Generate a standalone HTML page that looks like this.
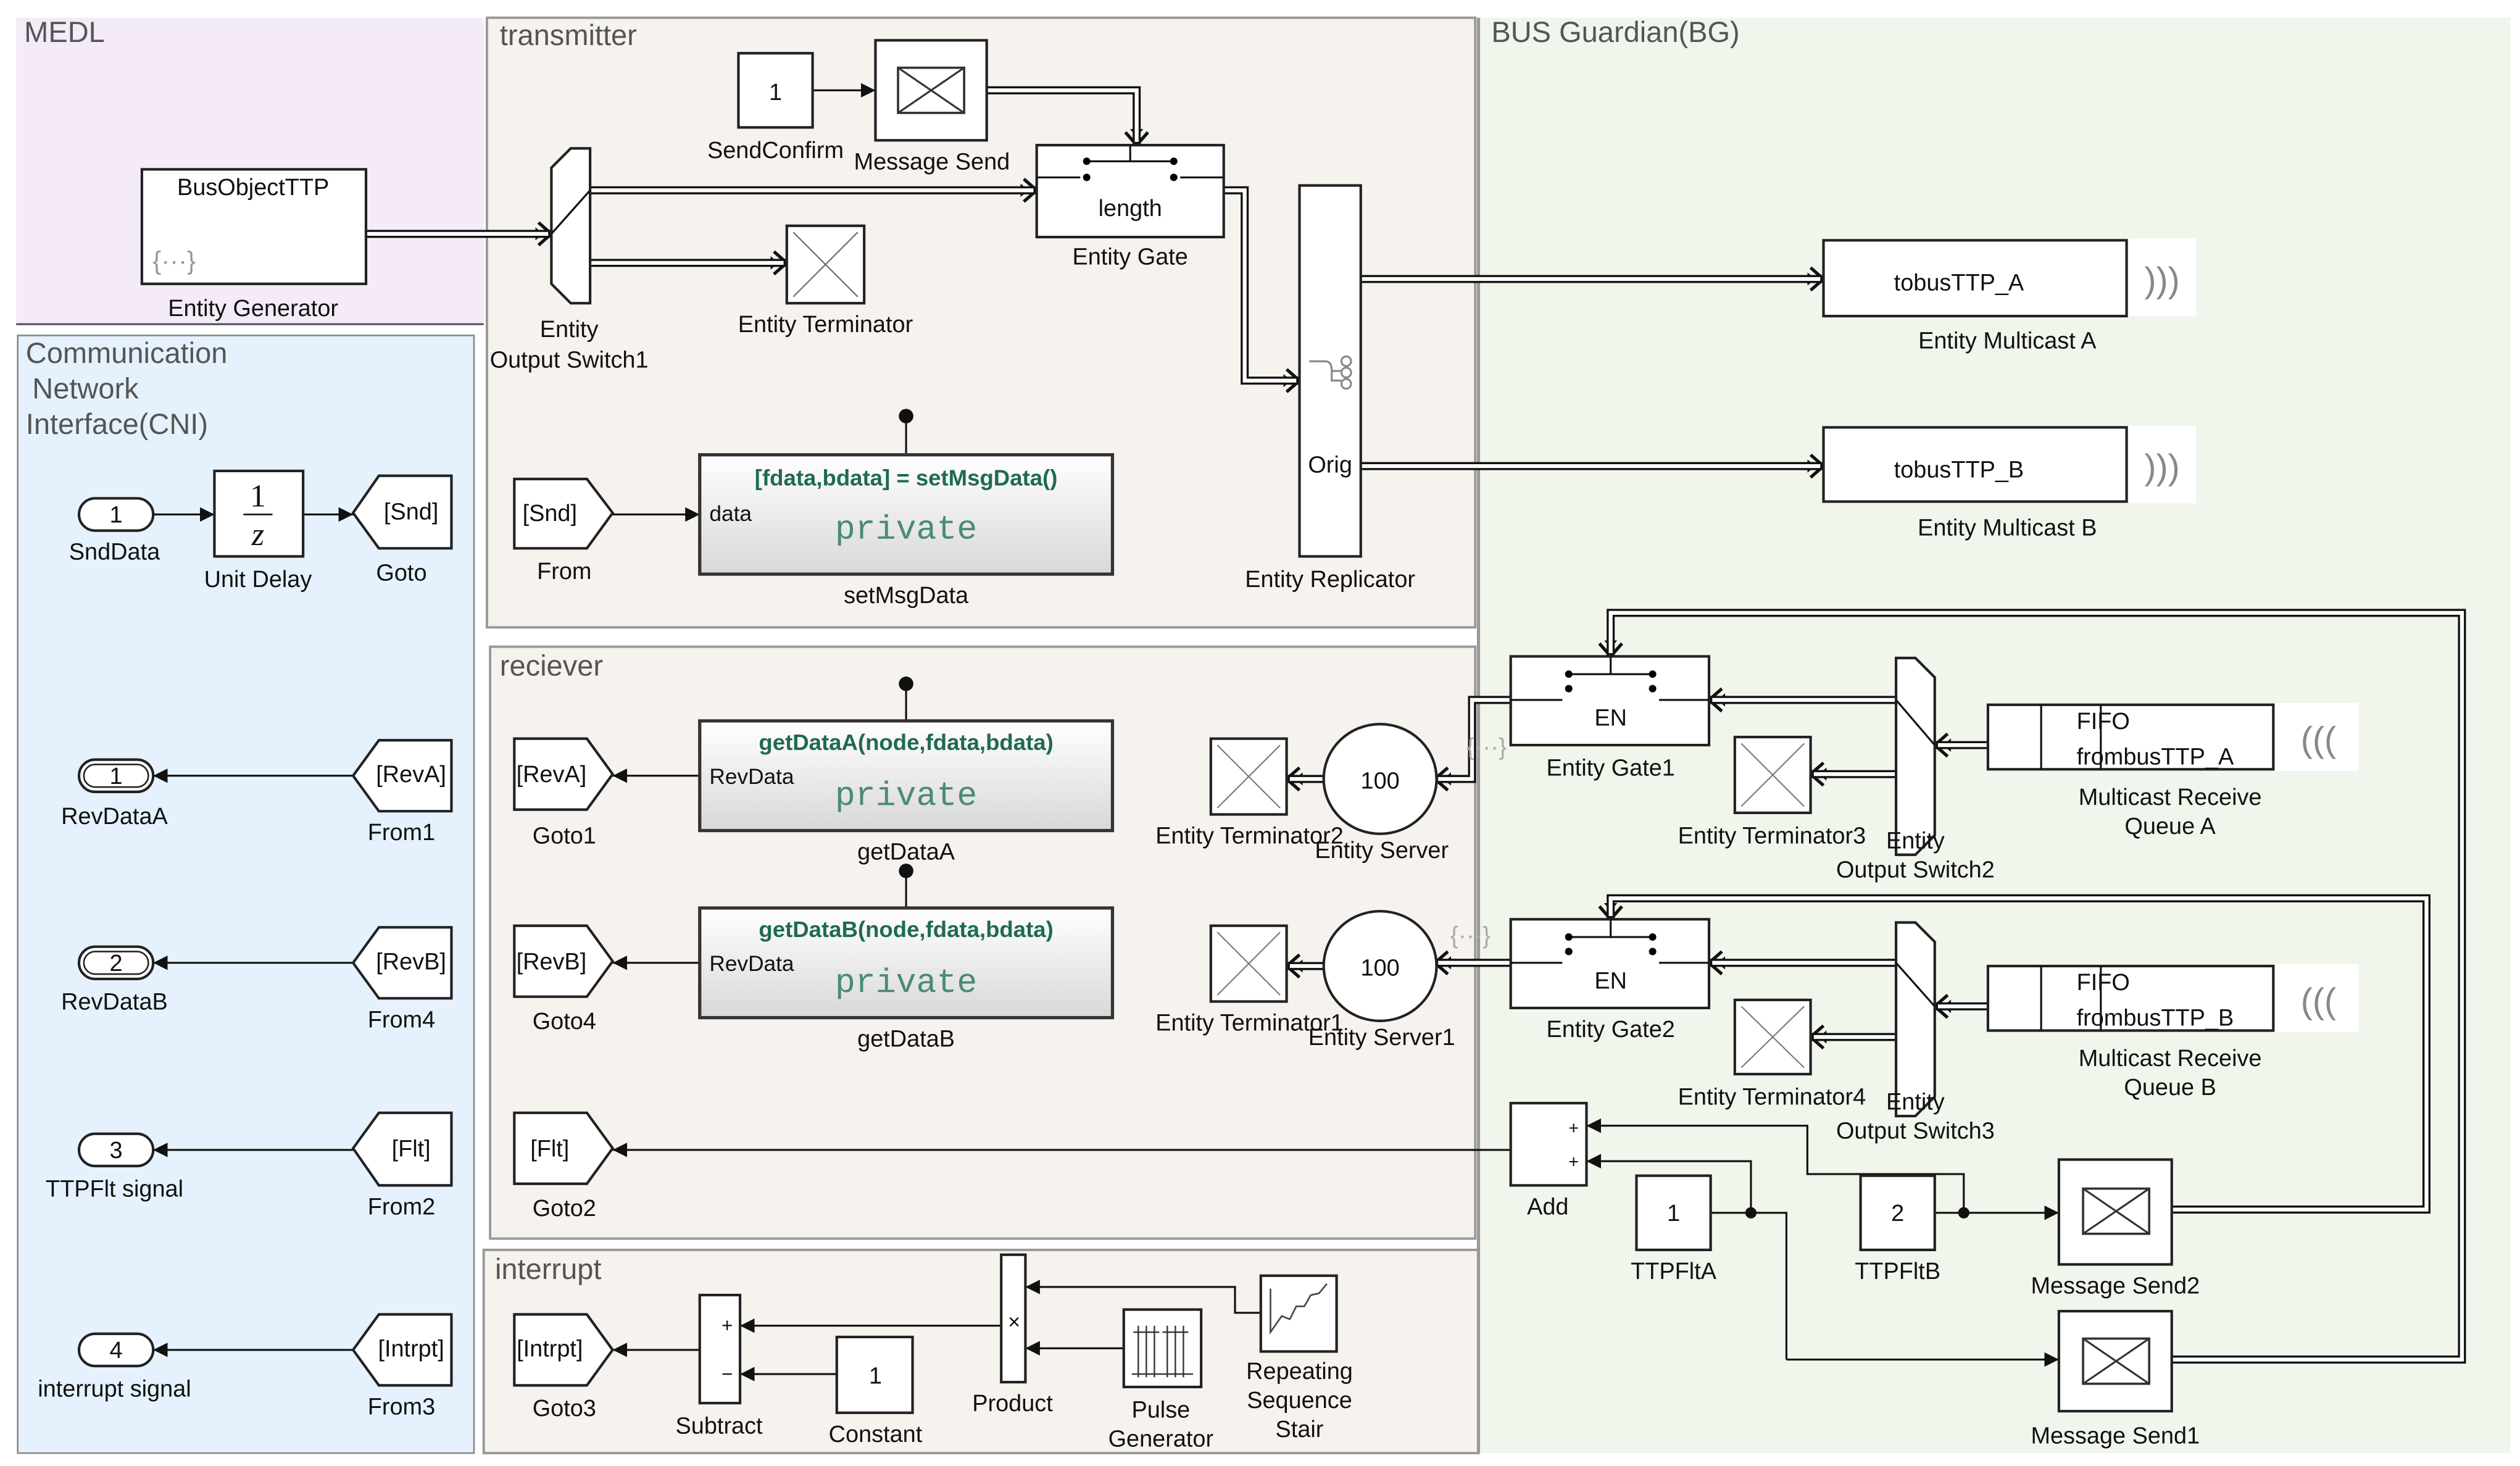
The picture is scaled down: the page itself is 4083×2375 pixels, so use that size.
<!DOCTYPE html>
<html><head><meta charset="utf-8"><style>
html,body{margin:0;padding:0;background:#fff;width:4083px;height:2375px;overflow:hidden}
svg{display:block}
text{font-family:"Liberation Sans",sans-serif;font-size:14.5px;fill:#111;text-anchor:middle}
.t{font-size:18px;fill:#555;text-anchor:start}
.b{fill:#fff;stroke:#222;stroke-width:1.6}
.s{fill:none;stroke:#111;stroke-width:1.2}
.e{fill:none;stroke:#111;stroke-width:5}
.ew{fill:none;stroke:#fff;stroke-width:2.4}
.g{fill:#1f6b4f;font-weight:bold;font-size:14px}
.p{font-family:"Liberation Mono",monospace;fill:#4a8a76;font-size:21px}
.l{text-anchor:start;font-size:13.5px}
</style></head><body>
<svg width="4083" height="2375" viewBox="0 0 1563 909" preserveAspectRatio="none" xmlns="http://www.w3.org/2000/svg">
<defs>
<marker id="a" markerUnits="userSpaceOnUse" markerWidth="10" markerHeight="10" refX="9" refY="5" orient="auto"><path d="M0,0.5 L9,5 L0,9.5z" fill="#111"/></marker>
<marker id="c" markerUnits="userSpaceOnUse" markerWidth="14" markerHeight="16" refX="10" refY="8" orient="auto"><path d="M2,1 L10,8 L2,15" fill="none" stroke="#111" stroke-width="2"/><path d="M-2,3 L4,8 L-2,13" fill="none" stroke="#111" stroke-width="1.2"/></marker>
<linearGradient id="gr" x1="0" y1="0" x2="0" y2="1"><stop offset="0" stop-color="#fff"/><stop offset="1" stop-color="#d8d8d8"/></linearGradient>
</defs>
<rect width="1563" height="909" fill="#fff"/>
<!-- regions -->
<rect x="10" y="11" width="290" height="190" fill="#f5eaf7"/>
<line x1="10" y1="201" x2="300" y2="201" stroke="#555" stroke-width="1.2"/>
<rect x="11" y="208" width="283" height="693" fill="#e5f2fd" stroke="#888" stroke-width="1"/>
<rect x="302" y="11" width="613" height="378" fill="#f6f2ee" stroke="#999" stroke-width="1.5"/>
<rect x="304" y="401" width="611" height="367" fill="#f6f2ee" stroke="#999" stroke-width="1.5"/>
<rect x="300" y="775" width="617" height="126" fill="#f6f2ee" stroke="#999" stroke-width="1.5"/>
<rect x="918" y="11" width="639" height="890" fill="#f1f6ec"/>
<line x1="917" y1="11" x2="917" y2="901" stroke="#999" stroke-width="2"/>
<text class="t" x="15" y="26">MEDL</text>
<text class="t" x="310" y="28">transmitter</text>
<text class="t" x="310" y="419">reciever</text>
<text class="t" x="307" y="793">interrupt</text>
<text class="t" x="925" y="26">BUS Guardian(BG)</text>
<text class="t" x="16" y="225">Communication</text>
<text class="t" x="20" y="247">Network</text>
<text class="t" x="16" y="269">Interface(CNI)</text>

<!-- entity double connections -->
<g>
<path class="e" marker-end="url(#c)" d="M227,145 H342"/>
<path class="e" marker-end="url(#c)" d="M366,118 H643"/>
<path class="e" marker-end="url(#c)" d="M366,163 H488"/>
<path class="e" marker-end="url(#c)" d="M612,56 H705 V90"/>
<path class="e" marker-end="url(#c)" d="M759,118 H772 V236 H806"/>
<path class="e" marker-end="url(#c)" d="M844,173 H1131"/>
<path class="e" marker-end="url(#c)" d="M844,289 H1131"/>
<path class="e" marker-end="url(#c)" d="M822,483 H798"/>
<path class="e" marker-end="url(#c)" d="M822,599 H798"/>
<path class="e" marker-end="url(#c)" d="M937,434 H913 V483 H890"/>
<path class="e" marker-end="url(#c)" d="M937,597 H890"/>
<path class="e" marker-end="url(#c)" d="M1176,434 H1060"/>
<path class="e" marker-end="url(#c)" d="M1176,480 H1123"/>
<path class="e" marker-end="url(#c)" d="M1233,462 H1200"/>
<path class="e" marker-end="url(#c)" d="M1176,597 H1060"/>
<path class="e" marker-end="url(#c)" d="M1176,643 H1123"/>
<path class="e" marker-end="url(#c)" d="M1233,624 H1200"/>
<path class="e" marker-end="url(#c)" d="M1347,843 H1527 V380 H999 V407"/>
<path class="e" marker-end="url(#c)" d="M1347,750 H1505 V557 H999 V570"/>
<path class="ew" d="M227,145 H340 M366,118 H641 M366,163 H486 M612,56 H705 V88 M759,118 H772 V236 H804 M844,173 H1129 M844,289 H1129 M822,483 H800 M822,599 H800 M937,434 H913 V483 H892 M937,597 H892 M1176,434 H1062 M1176,480 H1125 M1233,462 H1202 M1176,597 H1062 M1176,643 H1125 M1233,624 H1202 M1347,843 H1527 V380 H999 V405 M1347,750 H1505 V557 H999 V568"/>
</g>

<!-- signal lines -->
<g class="s">
<path marker-end="url(#a)" d="M504,56 H543"/>
<path marker-end="url(#a)" d="M380,319 H434"/>
<path d="M562,258 V282 M562,424 V447 M562,540 V563"/>
<path marker-end="url(#a)" d="M95,319 H133"/>
<path marker-end="url(#a)" d="M188,319 H219"/>
<path marker-end="url(#a)" d="M219,481 H95"/>
<path marker-end="url(#a)" d="M219,597 H95"/>
<path marker-end="url(#a)" d="M219,713 H95"/>
<path marker-end="url(#a)" d="M219,837 H95"/>
<path marker-end="url(#a)" d="M434,481 H380"/>
<path marker-end="url(#a)" d="M434,597 H380"/>
<path marker-end="url(#a)" d="M937,713 H380"/>
<path marker-end="url(#a)" d="M434,837 H380"/>
<path marker-end="url(#a)" d="M621,822 H459"/>
<path marker-end="url(#a)" d="M519,852 H459"/>
<path marker-end="url(#a)" d="M697,836 H636"/>
<path marker-end="url(#a)" d="M782,814 H766 V798 H636"/>
<path marker-end="url(#a)" d="M1218,752 V728 H1121 V698 H984"/>
<path marker-end="url(#a)" d="M1086,752 V720 H984"/>
<path d="M1061,752 H1108 V843"/>
<path marker-end="url(#a)" d="M1108,843 H1277"/>
<path marker-end="url(#a)" d="M1200,752 H1277"/>
</g>
<circle cx="562" cy="258" r="4.5" fill="#111"/><circle cx="562" cy="424" r="4.5" fill="#111"/><circle cx="562" cy="540" r="4.5" fill="#111"/>
<circle cx="1086" cy="752" r="3.5" fill="#111"/><circle cx="1218" cy="752" r="3.5" fill="#111"/>

<!-- MEDL -->
<rect class="b" x="88" y="105" width="139" height="71"/>
<text x="157" y="121">BusObjectTTP</text>
<text x="108" y="167" style="fill:#999;font-size:16px">{···}</text>
<text x="157" y="196">Entity Generator</text>

<!-- transmitter -->
<path class="b" d="M342,104 L354,92 H366 V188 H354 L342,176Z"/>
<path class="s" d="M342,145 L366,118"/>
<text x="353" y="209">Entity</text><text x="353" y="228">Output Switch1</text>
<rect class="b" x="488" y="140" width="48" height="48"/><path d="M492,144 L532,184 M532,144 L492,184" stroke="#666" stroke-width="0.8"/>
<text x="512" y="206">Entity Terminator</text>
<rect class="b" x="458" y="33" width="46" height="46"/><text x="481" y="62">1</text>
<text x="481" y="98">SendConfirm</text>
<rect class="b" x="543" y="25" width="69" height="62"/>
<rect x="557" y="42" width="41" height="28" fill="#fff" stroke="#333" stroke-width="1.4"/><path d="M557,42 L598,70 M598,42 L557,70" stroke="#333" stroke-width="1.2"/>
<text x="578" y="105">Message Send</text>
<rect class="b" x="643" y="90" width="116" height="57"/>
<path class="s" d="M701,90 V100 M672,100 H730 M643,110 H670 M732,110 H759"/>
<circle cx="674" cy="100" r="2.3"/><circle cx="728" cy="100" r="2.3"/><circle cx="674" cy="110" r="2.3"/><circle cx="728" cy="110" r="2.3"/>
<text x="701" y="134">length</text>
<text x="701" y="164">Entity Gate</text>
<rect class="b" x="806" y="115" width="38" height="230"/>
<g stroke="#888" fill="none" stroke-width="1.2"><path d="M812,224 H822 Q826,224 826,230 V236 H832 M826,230 H832"/><circle cx="835" cy="224" r="3"/><circle cx="835" cy="231" r="3"/><circle cx="835" cy="238" r="3"/></g>
<text x="825" y="293">Orig</text>
<text x="825" y="364">Entity Replicator</text>
<rect class="b" x="1131" y="149" width="188" height="47"/><text x="1215" y="180">tobusTTP_A</text>
<rect x="1320" y="148" width="42" height="48" fill="#fff"/><text x="1341" y="181" style="fill:#888;font-size:22px">)))</text>
<text x="1245" y="216">Entity Multicast A</text>
<rect class="b" x="1131" y="265" width="188" height="46"/><text x="1215" y="296">tobusTTP_B</text>
<rect x="1320" y="264" width="42" height="48" fill="#fff"/><text x="1341" y="297" style="fill:#888;font-size:22px">)))</text>
<text x="1245" y="332">Entity Multicast B</text>
<path class="b" d="M319,297 H364 L380,318 L364,340 H319Z"/><text x="341" y="323">[Snd]</text>
<text x="350" y="359">From</text>
<rect x="434" y="282" width="256" height="74" fill="url(#gr)" stroke="#333" stroke-width="2"/>
<text class="g" x="562" y="301">[fdata,bdata] = setMsgData()</text>
<text class="l" x="440" y="323">data</text>
<text class="p" x="562" y="334">private</text>
<text x="562" y="374">setMsgData</text>

<!-- CNI -->
<rect class="b" x="49" y="309" width="46" height="20" rx="10"/><text x="72" y="324">1</text><text x="71" y="347">SndData</text>
<rect class="b" x="133" y="292" width="55" height="53"/><text x="160" y="314" style="font-size:20px;font-family:'Liberation Serif',serif">1</text><line x1="151" y1="319" x2="169" y2="319" stroke="#111"/><text x="160" y="338" style="font-size:20px;font-family:'Liberation Serif',serif;font-style:italic">z</text>
<text x="160" y="364">Unit Delay</text>
<path class="b" d="M280,295 H235 L219,318 L235,340 H280Z"/><text x="255" y="322">[Snd]</text><text x="249" y="360">Goto</text>
<rect class="b" x="49" y="471" width="46" height="20" rx="10"/><rect x="52" y="474" width="40" height="14" rx="7" fill="none" stroke="#222"/><text x="72" y="486">1</text><text x="71" y="511">RevDataA</text>
<path class="b" d="M280,459 H235 L219,481 L235,503 H280Z"/><text x="255" y="485">[RevA]</text><text x="249" y="521">From1</text>
<rect class="b" x="49" y="587" width="46" height="20" rx="10"/><rect x="52" y="590" width="40" height="14" rx="7" fill="none" stroke="#222"/><text x="72" y="602">2</text><text x="71" y="626">RevDataB</text>
<path class="b" d="M280,575 H235 L219,597 L235,619 H280Z"/><text x="255" y="601">[RevB]</text><text x="249" y="637">From4</text>
<rect class="b" x="49" y="703" width="46" height="20" rx="10"/><text x="72" y="718">3</text><text x="71" y="742">TTPFlt signal</text>
<path class="b" d="M280,690 H235 L219,712 L235,735 H280Z"/><text x="255" y="717">[Flt]</text><text x="249" y="753">From2</text>
<rect class="b" x="49" y="827" width="46" height="20" rx="10"/><text x="72" y="842">4</text><text x="71" y="866">interrupt signal</text>
<path class="b" d="M280,815 H235 L219,837 L235,859 H280Z"/><text x="255" y="841">[Intrpt]</text><text x="249" y="877">From3</text>

<!-- receiver -->
<path class="b" d="M319,458 H364 L380,480 L364,502 H319Z"/><text x="342" y="485">[RevA]</text><text x="350" y="523">Goto1</text>
<rect x="434" y="447" width="256" height="68" fill="url(#gr)" stroke="#333" stroke-width="2"/>
<text class="g" x="562" y="465">getDataA(node,fdata,bdata)</text>
<text class="l" x="440" y="486">RevData</text>
<text class="p" x="562" y="499">private</text>
<text x="562" y="533">getDataA</text>
<path class="b" d="M319,574 H364 L380,596 L364,618 H319Z"/><text x="342" y="601">[RevB]</text><text x="350" y="638">Goto4</text>
<rect x="434" y="563" width="256" height="68" fill="url(#gr)" stroke="#333" stroke-width="2"/>
<text class="g" x="562" y="581">getDataB(node,fdata,bdata)</text>
<text class="l" x="440" y="602">RevData</text>
<text class="p" x="562" y="615">private</text>
<text x="562" y="649">getDataB</text>
<path class="b" d="M319,690 H364 L380,712 L364,734 H319Z"/><text x="341" y="717">[Flt]</text><text x="350" y="754">Goto2</text>
<rect class="b" x="751" y="458" width="47" height="47"/><path d="M755,462 L794,501 M794,462 L755,501" stroke="#777" stroke-width="0.8"/>
<text x="775" y="523">Entity Terminator2</text>
<ellipse class="b" cx="856" cy="483" rx="35" ry="34"/><text x="856" y="489">100</text>
<text x="857" y="532">Entity Server</text>
<text x="922" y="468" style="fill:#aaa;font-size:15px">{···}</text>
<rect class="b" x="751" y="574" width="47" height="47"/><path d="M755,578 L794,617 M794,578 L755,617" stroke="#777" stroke-width="0.8"/>
<text x="775" y="639">Entity Terminator1</text>
<ellipse class="b" cx="856" cy="599" rx="35" ry="34"/><text x="856" y="605">100</text>
<text x="857" y="648">Entity Server1</text>
<text x="912" y="585" style="fill:#aaa;font-size:15px">{···}</text>

<!-- interrupt -->
<path class="b" d="M319,815 H364 L380,837 L364,859 H319Z"/><text x="341" y="841">[Intrpt]</text><text x="350" y="878">Goto3</text>
<rect class="b" x="434" y="803" width="25" height="67"/><text x="451" y="826" style="font-size:12px">+</text><text x="451" y="856" style="font-size:12px">−</text>
<text x="446" y="889">Subtract</text>
<rect class="b" x="519" y="829" width="47" height="47"/><text x="543" y="858">1</text><text x="543" y="894">Constant</text>
<rect class="b" x="621" y="778" width="15" height="79"/><text x="629" y="824" style="font-size:13px">×</text><text x="628" y="875">Product</text>
<rect class="b" x="697" y="812" width="48" height="48"/>
<path d="M702,852 H740 M706,822 V854 M711,822 V854 M716,822 V854 M724,822 V854 M729,822 V854 M734,822 V854 M703,826 H719 M721,826 H737" stroke="#333" stroke-width="0.9"/>
<text x="720" y="879">Pulse</text><text x="720" y="897">Generator</text>
<rect class="b" x="782" y="791" width="47" height="47"/><path d="M788,799 V826 L795,816 L800,818 L804,810 L809,810 L813,803 L818,802 L823,796" fill="none" stroke="#444" stroke-width="1"/>
<text x="806" y="855">Repeating</text><text x="806" y="873">Sequence</text><text x="806" y="891">Stair</text>

<!-- BG -->
<rect class="b" x="937" y="407" width="123" height="55"/>
<path class="s" d="M999,407 V418 M971,418 H1027 M937,434 H969 M1029,434 H1060"/>
<circle cx="973" cy="418" r="2.3"/><circle cx="1025" cy="418" r="2.3"/><circle cx="973" cy="427" r="2.3"/><circle cx="1025" cy="427" r="2.3"/>
<text x="999" y="450">EN</text><text x="999" y="481">Entity Gate1</text>
<path class="b" d="M1176,408 H1188 L1200,420 V518 L1188,530 H1176Z"/><path class="s" d="M1176,434 L1200,462"/>
<rect class="b" x="1076" y="457" width="47" height="47"/><path d="M1080,461 L1119,500 M1119,461 L1080,500" stroke="#777" stroke-width="0.8"/>
<text x="1099" y="523">Entity Terminator3</text>
<text x="1188" y="526">Entity</text><text x="1188" y="544">Output Switch2</text>
<rect class="b" x="1233" y="437" width="177" height="40"/><path class="s" d="M1266,437 V477 M1303,437 V477"/>
<text class="l" x="1288" y="452" style="font-size:14.5px">FIFO</text><text class="l" x="1288" y="474" style="font-size:14.5px">frombusTTP_A</text>
<rect x="1411" y="436" width="52" height="42" fill="#fff"/><text x="1438" y="466" style="fill:#888;font-size:22px">(((</text>
<text x="1346" y="499">Multicast Receive</text><text x="1346" y="517">Queue A</text>

<rect class="b" x="937" y="570" width="123" height="55"/>
<path class="s" d="M999,570 V581 M971,581 H1027 M937,597 H969 M1029,597 H1060"/>
<circle cx="973" cy="581" r="2.3"/><circle cx="1025" cy="581" r="2.3"/><circle cx="973" cy="590" r="2.3"/><circle cx="1025" cy="590" r="2.3"/>
<text x="999" y="613">EN</text><text x="999" y="643">Entity Gate2</text>
<path class="b" d="M1176,572 H1188 L1200,584 V680 L1188,692 H1176Z"/><path class="s" d="M1176,597 L1200,624"/>
<rect class="b" x="1076" y="620" width="47" height="46"/><path d="M1080,624 L1119,662 M1119,624 L1080,662" stroke="#777" stroke-width="0.8"/>
<text x="1099" y="685">Entity Terminator4</text>
<text x="1188" y="688">Entity</text><text x="1188" y="706">Output Switch3</text>
<rect class="b" x="1233" y="599" width="177" height="40"/><path class="s" d="M1266,599 V639 M1303,599 V639"/>
<text class="l" x="1288" y="614" style="font-size:14.5px">FIFO</text><text class="l" x="1288" y="636" style="font-size:14.5px">frombusTTP_B</text>
<rect x="1411" y="598" width="52" height="42" fill="#fff"/><text x="1438" y="628" style="fill:#888;font-size:22px">(((</text>
<text x="1346" y="661">Multicast Receive</text><text x="1346" y="679">Queue B</text>

<rect class="b" x="937" y="684" width="47" height="51"/><text x="976" y="703" style="font-size:11px">+</text><text x="976" y="724" style="font-size:11px">+</text>
<text x="960" y="753">Add</text>
<rect class="b" x="1015" y="729" width="46" height="46"/><text x="1038" y="757">1</text><text x="1038" y="793">TTPFltA</text>
<rect class="b" x="1154" y="729" width="46" height="46"/><text x="1177" y="757">2</text><text x="1177" y="793">TTPFltB</text>
<rect class="b" x="1277" y="719" width="70" height="65"/>
<rect x="1292" y="737" width="41" height="28" fill="#fff" stroke="#333" stroke-width="1.4"/><path d="M1292,737 L1333,765 M1333,737 L1292,765" stroke="#333" stroke-width="1.2"/>
<text x="1312" y="802">Message Send2</text>
<rect class="b" x="1277" y="813" width="70" height="62"/>
<rect x="1292" y="830" width="41" height="28" fill="#fff" stroke="#333" stroke-width="1.4"/><path d="M1292,830 L1333,858 M1333,830 L1292,858" stroke="#333" stroke-width="1.2"/>
<text x="1312" y="895">Message Send1</text>
</svg>
</body></html>
